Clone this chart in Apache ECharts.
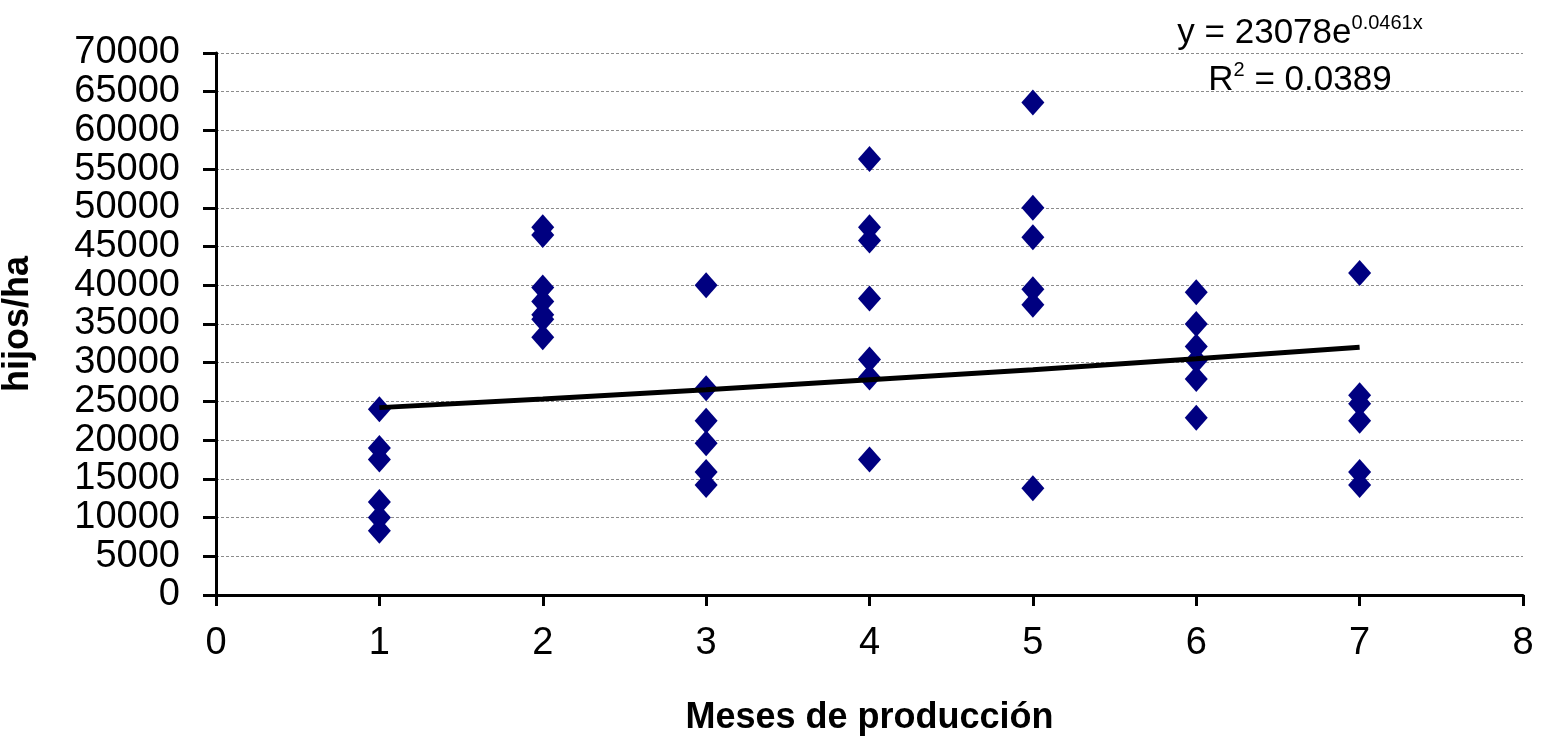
<!DOCTYPE html>
<html>
<head>
<meta charset="utf-8">
<script src="https://cdn.jsdelivr.net/npm/echarts@6/dist/echarts.min.js"></script>
<style>
  html, body { margin: 0; padding: 0; background: #fff; }
  #chart { width: 1544px; height: 737px; }
</style>
</head>
<body>
<div id="chart"></div>
<script>
// Hijos/ha observed per month of production
const mes1 = [24000, 19000, 17500, 12000, 10000, 8300];
const mes2 = [47500, 46500, 39700, 37900, 36200, 35600, 33300];
const mes3 = [40000, 26700, 22500, 19600, 15900, 14200];
const mes4 = [56300, 47500, 45800, 38300, 30400, 28100, 17500];
const mes5 = [63600, 50000, 46200, 39500, 37500, 13800];
const mes6 = [39100, 35000, 32100, 30300, 27900, 22900];
const mes7 = [41600, 25800, 24700, 22500, 15900, 14200];
const monthGroups = [mes1, mes2, mes3, mes4, mes5, mes6, mes7];

// Exponential trend line
const trendX = [1, 2, 3, 4, 5, 6, 7];
const trendY = [24200, 25300, 26500, 27800, 29100, 30500, 32000];

const xTicks = [0, 1, 2, 3, 4, 5, 6, 7, 8];
const yTicks = [0, 5000, 10000, 15000, 20000, 25000, 30000, 35000, 40000, 45000, 50000, 55000, 60000, 65000, 70000];

const equationText = '{m|y = 23078e}{s|0.0461x}';
const r2Text = '{m|R}{s|2}{m| = 0.0389}';

const scatterData = [];
monthGroups.forEach((vals, i) => vals.forEach(v => scatterData.push([i + 1, v])));
const trendData = trendX.map((x, i) => [x, trendY[i]]);

const FONT = '"Liberation Sans", Arial, sans-serif';
const chart = echarts.init(document.getElementById('chart'));
chart.setOption({
  backgroundColor: '#ffffff',
  animation: false,
  grid: { left: 216, right: 21, top: 53, bottom: 142, containLabel: false, outerBoundsMode: 'none' },
  xAxis: {
    type: 'value',
    min: xTicks[0], max: xTicks[xTicks.length - 1], interval: 1,
    name: 'Meses de producción',
    nameLocation: 'middle',
    nameGap: 105,
    nameTextStyle: { fontFamily: FONT, fontSize: 36, fontWeight: 'bold', color: '#000' },
    axisLine: { show: true, onZero: false, lineStyle: { color: '#000', width: 3 } },
    axisTick: { show: true, length: 11, lineStyle: { color: '#000', width: 3 } },
    axisLabel: { fontFamily: FONT, fontSize: 38, color: '#000', margin: 30, showMinLabel: true, showMaxLabel: true },
    splitLine: { show: false }
  },
  yAxis: {
    type: 'value',
    min: yTicks[0], max: yTicks[yTicks.length - 1], interval: 5000,
    name: 'hijos/ha',
    nameLocation: 'middle',
    nameGap: 180,
    nameTextStyle: { fontFamily: FONT, fontSize: 36, fontWeight: 'bold', color: '#000' },
    axisLine: { show: true, lineStyle: { color: '#000', width: 3 } },
    axisTick: { show: true, length: 13, lineStyle: { color: '#000', width: 3 } },
    axisLabel: {
      fontFamily: FONT, fontSize: 38, color: '#000', margin: 36, interval: 0,
      showMinLabel: true, showMaxLabel: true, hideOverlap: false,
      formatter: v => String(v)
    },
    splitLine: { show: true, lineStyle: { color: '#8c8c8c', width: 1, type: [3, 2] } }
  },
  series: [
    {
      type: 'scatter',
      data: scatterData,
      symbol: 'diamond',
      symbolSize: [23, 26],
      itemStyle: { color: '#000080', opacity: 1 },
      z: 2
    },
    {
      type: 'line',
      data: trendData,
      symbol: 'none',
      lineStyle: { color: '#000', width: 5 },
      z: 3
    }
  ],
  graphic: [
    {
      type: 'text', x: 1300, y: 32, z: 10,
      style: {
        text: equationText, align: 'center', verticalAlign: 'middle',
        rich: {
          m: { fontFamily: FONT, fontSize: 35, fill: '#000', verticalAlign: 'bottom', lineHeight: 38 },
          s: { fontFamily: FONT, fontSize: 20, fill: '#000', verticalAlign: 'top', lineHeight: 38 }
        }
      }
    },
    {
      type: 'text', x: 1300, y: 79, z: 10,
      style: {
        text: r2Text, align: 'center', verticalAlign: 'middle',
        rich: {
          m: { fontFamily: FONT, fontSize: 35, fill: '#000', verticalAlign: 'bottom', lineHeight: 38 },
          s: { fontFamily: FONT, fontSize: 20, fill: '#000', verticalAlign: 'top', lineHeight: 38 }
        }
      }
    }
  ]
});
</script>
</body>
</html>
